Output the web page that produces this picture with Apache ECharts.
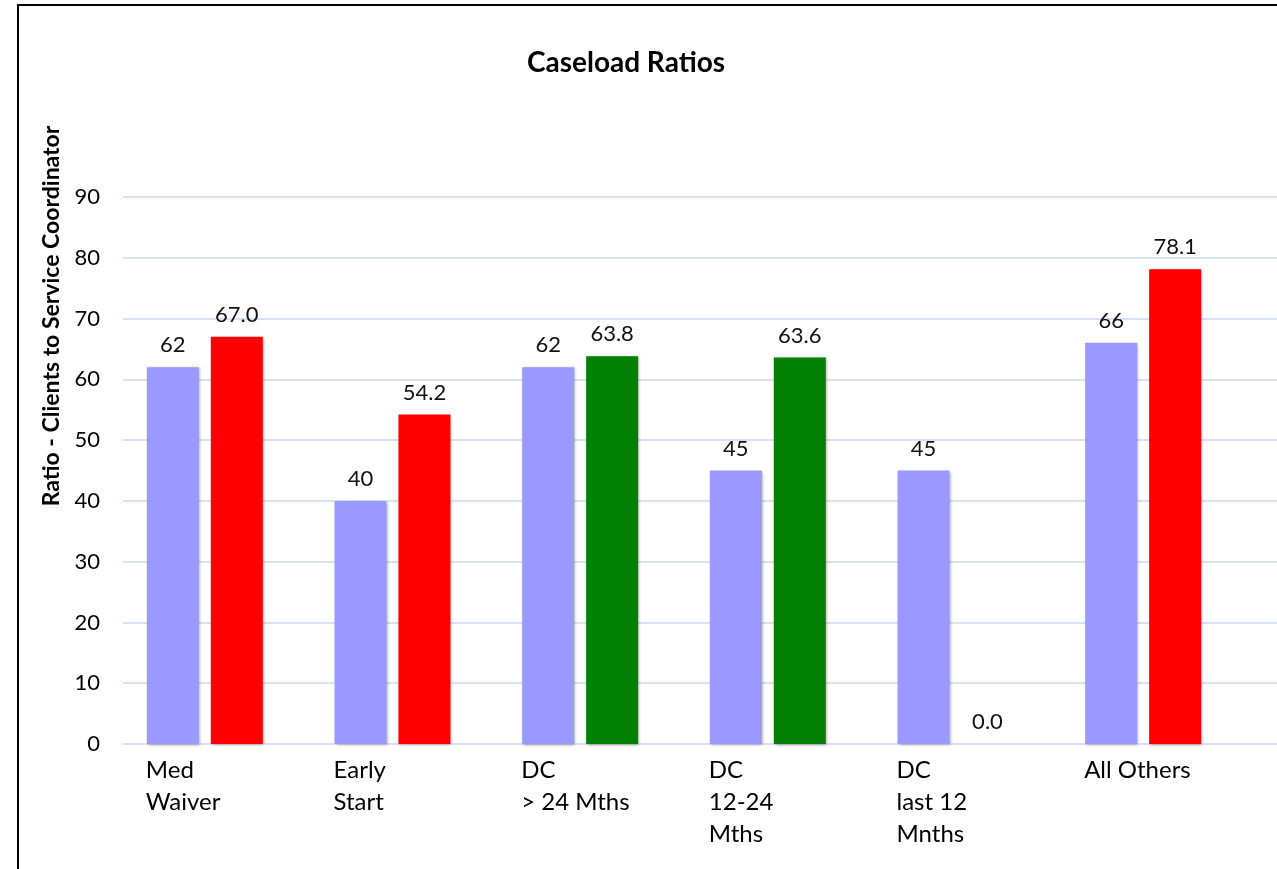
<!DOCTYPE html>
<html>
<head>
<meta charset="utf-8">
<script src="https://cdn.jsdelivr.net/npm/echarts@6/dist/echarts.min.js"></script>
<style>html,body{margin:0;padding:0;background:#fff}#c{width:1277px;height:869px}</style>
</head>
<body>
<div id="c"></div>
<script>
const categories = ['Med\nWaiver', 'Early\nStart', 'DC\n> 24 Mths', 'DC\n12-24\nMths', 'DC\nlast 12\nMnths', 'All Others'];
const seriesA = [62, 40, 62, 45, 45, 66];
const seriesB = [67.0, 54.2, 63.8, 63.6, 0.0, 78.1];
const yTicks = { min: 0, max: 90, interval: 10 };

const colorA = '#9999FF';
const colorsB = ['#FF0000', '#FF0000', '#008000', '#008000', '#FF0000', '#FF0000'];
const FONT = 'Lato, "Open Sans", sans-serif';

const chart = echarts.init(document.getElementById('c'), null, { renderer: 'canvas' });

const shadow = { shadowColor: 'rgba(0,0,0,0.35)', shadowBlur: 3, shadowOffsetX: 1, shadowOffsetY: 1 };

const catLabelRich = { t: { width: 118, align: 'left', fontFamily: FONT, fontSize: 24, color: '#000', lineHeight: 32 } };

chart.setOption({
  animation: false,
  backgroundColor: '#fff',
  title: {
    text: 'Caseload Ratios', left: 621, top: 44, textAlign: 'center',
    textStyle: { fontFamily: FONT, fontWeight: 'bold', fontSize: 28, color: '#000' }
  },
  graphic: [
    { type: 'rect', shape: { x: 18, y: 5, width: 1300, height: 900 }, style: { fill: 'none', stroke: '#000', lineWidth: 2 }, silent: true, z: 100 },
    { type: 'text', x: 52, y: 316, rotation: Math.PI / 2,
      style: { text: 'Ratio - Clients to Service Coordinator', font: 'bold 23px ' + FONT, fill: '#000', align: 'center', verticalAlign: 'middle' } }
  ],
  grid: [
    { left: 111, width: 1126, top: 197, height: 547 },
    { left: 123, right: 0, top: 197, height: 547 }
  ],
  xAxis: [
    {
      type: 'category', gridIndex: 0, data: categories,
      axisLine: { show: false }, axisTick: { show: false },
      axisLabel: {
        interval: 0, margin: 10, align: 'center', verticalAlign: 'top',
        formatter: v => v.split('\n').map(s => '{t|' + s + '}').join('\n'),
        rich: catLabelRich
      }
    },
    { type: 'value', gridIndex: 1, show: false, min: 0, max: 1 }
  ],
  yAxis: [
    {
      type: 'value', gridIndex: 0, min: yTicks.min, max: yTicks.max, interval: yTicks.interval,
      axisLine: { show: false }, axisTick: { show: false }, splitLine: { show: false },
      axisLabel: { margin: 11, fontFamily: FONT, fontSize: 22, color: '#000' }
    },
    {
      type: 'value', gridIndex: 1, min: yTicks.min, max: yTicks.max, interval: yTicks.interval,
      axisLine: { show: false }, axisTick: { show: false }, axisLabel: { show: false },
      splitLine: { show: true, lineStyle: { color: '#D9E2F3', width: 2 } }
    }
  ],
  series: [
    {
      type: 'bar', xAxisIndex: 0, yAxisIndex: 0, data: seriesA,
      barWidth: 52, barGap: '23%',
      itemStyle: Object.assign({ color: colorA }, shadow),
      label: { show: true, position: 'top', distance: 11, fontFamily: FONT, fontSize: 22, color: '#111',
        formatter: p => String(Math.round(p.value)) }
    },
    {
      type: 'bar', xAxisIndex: 0, yAxisIndex: 0,
      data: seriesB.map((v, i) => ({ value: v, itemStyle: { color: colorsB[i] } })),
      barWidth: 52, barGap: '23%',
      itemStyle: Object.assign({}, shadow),
      label: { show: true, position: 'top', distance: 11, fontFamily: FONT, fontSize: 22, color: '#111',
        formatter: p => Number(p.value).toFixed(1) }
    }
  ]
});
</script>
</body>
</html>
